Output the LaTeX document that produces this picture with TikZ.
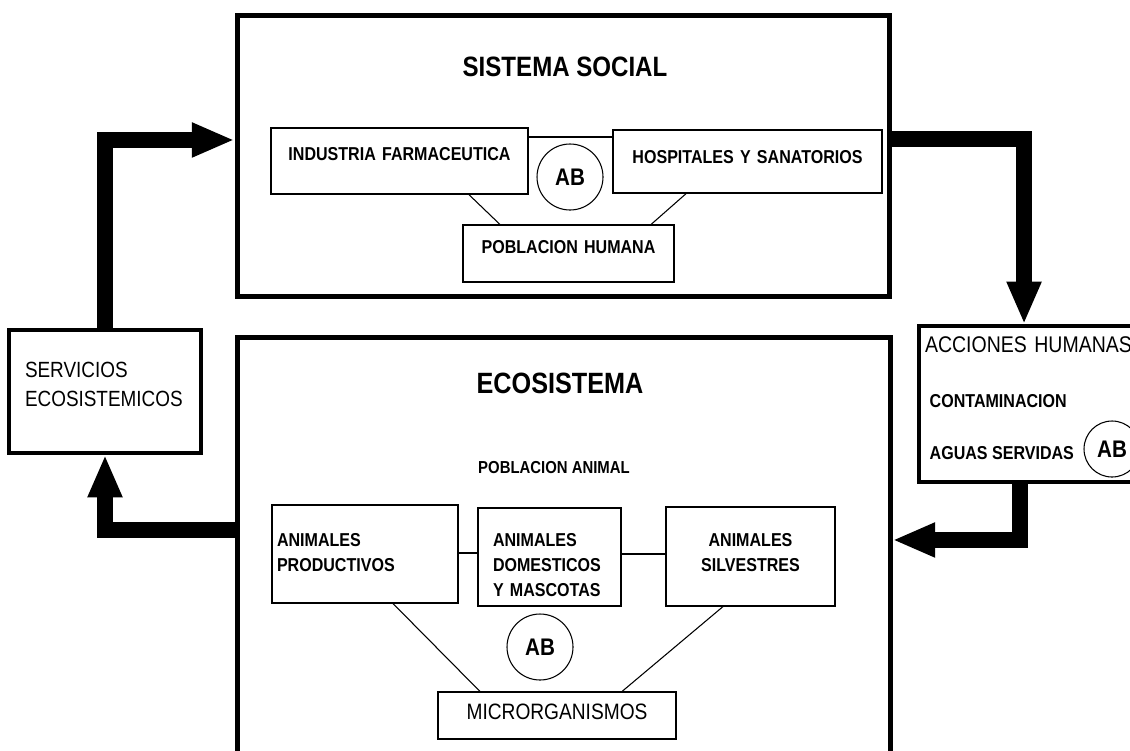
\documentclass[tikz,border=0pt]{standalone}
\usepackage{fontspec}
\setmainfont[FakeStretch=0.86]{Liberation Sans}
\usetikzlibrary{arrows.meta}

\begin{document}
\begin{tikzpicture}[x=0.75pt, y=-0.75pt, line join=miter,
	sistema/.style={draw=black, line width=3.75pt, inner sep=0pt},
	caja/.style={draw=black, line width=2.6pt, inner sep=0pt},
	cajita/.style={draw=black, line width=0.8pt, inner sep=0pt, font=\fontsize{14}{18.75}\selectfont\bfseries},
	ab/.style={circle, draw=black, line width=0.8pt, inner sep=0pt, font=\fontsize{18}{18}\selectfont\bfseries},
	enlace/.style={draw=black, line width=0.8pt},
	flujo/.style={line width=12pt, -{Triangle[length=32pt, width=24pt]}}]
	\useasboundingbox (0, 0) rectangle (1130, 750);
	% Social system
	\node [sistema, minimum width=489pt, minimum height=211pt] (social) at (563, 156.25) {};
	\node [anchor=base, font=\fontsize{21}{21}\selectfont\bfseries] (tsocial) at (565, 76) {SISTEMA SOCIAL};
	\node [cajita, text width=192.75pt, align=center, text height=24pt, text depth=25.5pt] (industria) at (399.5, 161) {INDUSTRIA FARMACEUTICA};
	\node [cajita, text width=201.75pt, align=center, text height=24.75pt, text depth=22.5pt] (hospitales) at (747.5, 161.5) {HOSPITALES Y SANATORIOS};
	\node [cajita, text width=158.25pt, align=center, text height=21pt, text depth=21.75pt] (humana) at (568.5, 253.5) {POBLACION HUMANA};
	\node [ab, minimum size=49.5pt] (ab-social) at (570, 177) {AB};
	% Ecosystem
	\node [sistema, minimum width=489.75pt, minimum height=332.25pt] (eco) at (563.5, 558.5) {};
	\node [anchor=base, font=\fontsize{22}{22}\selectfont\bfseries] (teco) at (560, 393) {ECOSISTEMA};
	\node [anchor=base, font=\fontsize{13}{13}\selectfont\bfseries] (tanimal) at (554, 473) {POBLACION ANIMAL};
	\node [cajita, text width=132pt, inner xsep=3.75pt, align=left, text height=30.75pt, text depth=42.75pt] (productivos) at (365, 554) {ANIMALES\\PRODUCTIVOS};
	\node [cajita, text width=84.75pt, inner xsep=11.25pt, align=left, text height=28.5pt, text depth=45pt] (domesticos) at (549.5, 557) {ANIMALES\\DOMESTICOS\\Y MASCOTAS};
	\node [cajita, text width=126.75pt, align=center, text height=29.25pt, text depth=45pt] (silvestres) at (750.5, 556.5) {ANIMALES\\SILVESTRES};
	\node [cajita, text width=178.5pt, align=center, text height=20.25pt, text depth=15pt, font=\fontsize{16.7}{16.7}\selectfont] (micro) at (557, 715.5) {MICRORGANISMOS};
	\node [ab, minimum size=49.5pt] (ab-eco) at (540, 647) {AB};
	% Side boxes
	\node [caja, text width=120pt, inner xsep=12pt, align=left, text height=35.25pt, text depth=57pt, font=\fontsize{16.5}{21.75}\selectfont] (servicios) at (105, 391.5) {SERVICIOS\\ECOSISTEMICOS};
	\node [caja, text width=171.75pt, inner xsep=4.5pt, align=left, text height=19.5pt, text depth=97.5pt, font=\fontsize{17}{17}\selectfont] (acciones) at (1039.5, 404) {ACCIONES HUMANAS};
	\node [anchor=base west, font=\fontsize{14}{14}\selectfont\bfseries] (contaminacion) at (925, 407) {CONTAMINACION};
	\node [anchor=base west, font=\fontsize{14}{14}\selectfont\bfseries] (aguas) at (925, 459) {AGUAS SERVIDAS};
	\node [ab, minimum size=42pt] (ab-acciones) at (1112, 449) {AB};
	% Thin links
	\draw [enlace] ([yshift=18pt]industria.east) -- ([yshift=18pt]industria.east -| hospitales.west);
	\draw [enlace] ([xshift=52pt]industria.south) -- ([xshift=-51.4pt]humana.north);
	\draw [enlace] ([xshift=-46pt]hospitales.south) -- ([xshift=61.9pt]humana.north);
	\draw [enlace] ([yshift=0.75pt]productivos.east) -- ([yshift=0.75pt]productivos.east -| domesticos.west);
	\draw [enlace] (domesticos.east |- productivos.east) -- (silvestres.west |- productivos.east);
	\draw [enlace] ([xshift=21pt]productivos.south) -- ([xshift=-57.75pt]micro.north);
	\draw [enlace] ([xshift=-20.6pt]silvestres.south) -- ([xshift=48.75pt]micro.north);
	% Thick flows
	\draw [flujo] (servicios.north) |- ([yshift=12.2pt]social.west);
	\draw [flujo] ([yshift=12.9pt]social.east) -| ([xshift=-11.6pt]acciones.north);
	\draw [flujo] ([xshift=-14.6pt]acciones.south) |- ([yshift=13.9pt]eco.east);
	\draw [flujo] ([yshift=21.4pt]eco.west) -| (servicios.south);
\end{tikzpicture}
\end{document}
